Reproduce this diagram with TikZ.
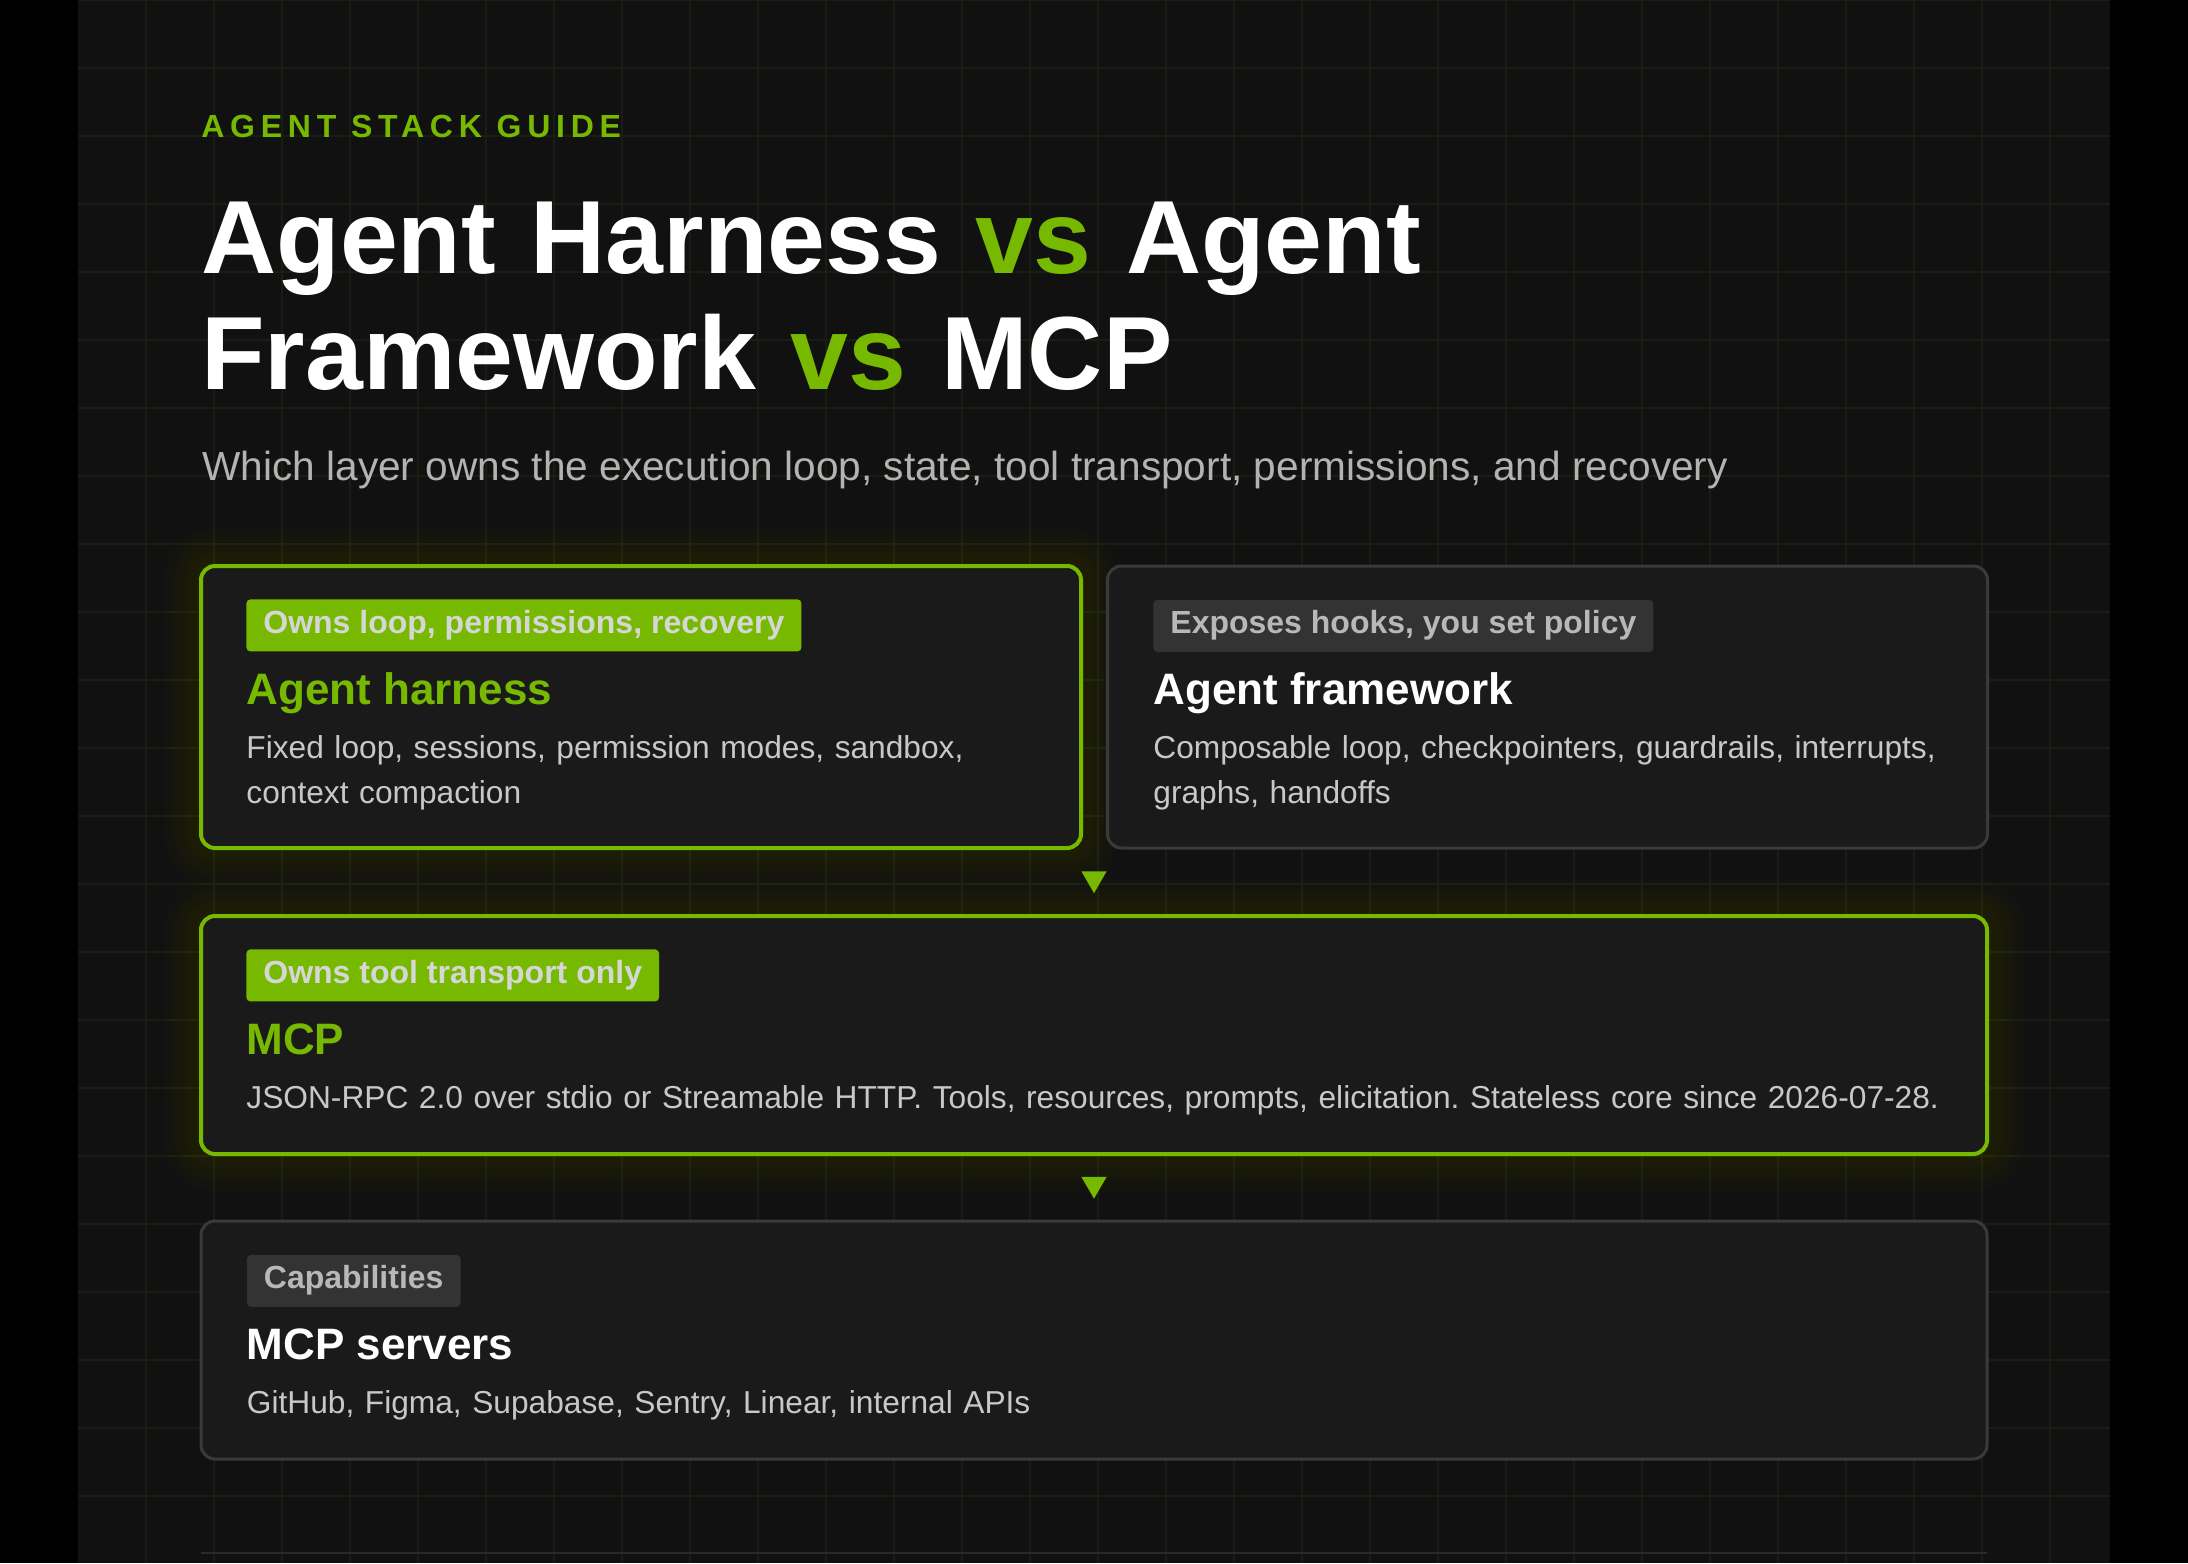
\documentclass[tikz,border=0pt]{standalone}
\usepackage{fontspec}
\setmainfont{Liberation Sans}
\newfontfamily\kickerfont[LetterSpace=18]{Liberation Sans}
\usetikzlibrary{positioning,shapes.geometric}
\frenchspacing

\definecolor{accent}{HTML}{76B900}
\definecolor{pagebg}{HTML}{111111}
\definecolor{gridline}{HTML}{181F12}
\definecolor{cardbg}{HTML}{1A1A1A}
\definecolor{cardline}{HTML}{3A3A3A}
\definecolor{tagbg}{HTML}{333333}
\definecolor{tagtext}{HTML}{B8B8B8}
\definecolor{ontag}{HTML}{D6D6D6}
\definecolor{bodytext}{HTML}{C8C8C8}
\definecolor{subtext}{HTML}{B3B3B3}
\definecolor{footline}{HTML}{2A2A2A}

\pgfdeclarelayer{back}
\pgfdeclarelayer{glow}
\pgfsetlayers{back,glow,main}

\tikzset{
  card/.style={draw=cardline, line width=1.5pt, fill=cardbg, rounded corners=7pt, inner sep=0pt},
  hotcard/.style={card, draw=accent, line width=2pt},
  tagbox/.style={fill=tagbg, text=tagtext, rounded corners=2pt, anchor=north west,
    inner xsep=8.5pt, inner ysep=5.5pt, text height=11.5pt, text depth=3.5pt,
    font=\fontsize{16}{19}\selectfont\bfseries},
  hottag/.style={tagbox, fill=accent, text=ontag},
  cardtitle/.style={anchor=base west, inner sep=0pt, text=white,
    font=\fontsize{22}{26}\selectfont\bfseries},
  hottitle/.style={cardtitle, text=accent},
  cardtext/.style={anchor=base west, inner sep=0pt, text=bodytext, text width=900pt,
    align=left, font=\fontsize{15.85}{22.5}\selectfont},
  downtri/.style={regular polygon, regular polygon sides=3, shape border rotate=180,
    fill=accent, inner sep=0pt, minimum size=14.5pt},
  glowring/.style={fill=accent, fill opacity=0.013}
}

\begin{document}
\begin{tikzpicture}[x=0.5pt, y=-0.5pt]

  \useasboundingbox (0,0) rectangle (2188,1563);

  \def\padx{47}
  \def\tagy{35}
  \def\titley{140}
  \def\texty{194}

  %backdrop
  \begin{pgfonlayer}{back}
    \fill[black] (0,0) rectangle (2188,1563);
    \fill[pagebg] (78,0) rectangle (2110,1563);
    \foreach \gx in {1,...,29}{
      \draw[gridline, line width=0.6pt] (78+\gx*68,0) -- (78+\gx*68,1563);
    }
    \foreach \gy in {0,...,22}{
      \draw[gridline, line width=0.6pt] (78,\gy*68) -- (2110,\gy*68);
    }
    \draw[footline, line width=1pt] (201,1553) -- (1987,1553);
  \end{pgfonlayer}

  %header
  \node[anchor=base west, inner sep=0pt, text=accent, font=\fontsize{16}{19}\kickerfont\bfseries]
    (kicker) at (201,137) {AGENT STACK GUIDE};
  \node[anchor=base west, inner sep=0pt, text=white, text width=1000pt, align=left,
    font=\fontsize{52}{58}\selectfont\bfseries]
    (headline) at (201,273) {Agent Harness \textcolor{accent}{vs} Agent\\Framework \textcolor{accent}{vs} MCP};
  \node[anchor=base west, inner sep=0pt, text=subtext, font=\fontsize{20.3}{24}\selectfont]
    (subline) at (202,480) {Which layer owns the execution loop, state, tool transport, permissions, and recovery};

  %cards
  \node[hotcard, minimum width=440pt, minimum height=141pt] (harness) at (641,707) {};
  \node[card, minimum width=440pt, minimum height=141pt] (framework) at (1547.5,707) {};
  \node[hotcard, minimum width=893pt, minimum height=119pt] (mcp) at (1094,1035) {};
  \node[card, minimum width=893pt, minimum height=119pt] (servers) at (1094,1340) {};

  %harness
  \node[hottag] (harnesstag) at ([shift={(\padx,\tagy)}]harness.north west) {Owns loop, permissions, recovery};
  \node[hottitle] (harnesstitle) at ([shift={(\padx,\titley)}]harness.north west) {Agent harness};
  \node[cardtext] (harnesstext) at ([shift={(\padx,\texty)}]harness.north west)
    {Fixed loop, sessions, permission modes, sandbox,\\context compaction};

  %framework
  \node[tagbox] (frameworktag) at ([shift={(\padx,\tagy)}]framework.north west) {Exposes hooks, you set policy};
  \node[cardtitle] (frameworktitle) at ([shift={(\padx,\titley)}]framework.north west) {Agent framework};
  \node[cardtext] (frameworktext) at ([shift={(\padx,\texty)}]framework.north west)
    {Composable loop, checkpointers, guardrails, interrupts,\\graphs, handoffs};

  %mcp
  \node[hottag] (mcptag) at ([shift={(\padx,\tagy)}]mcp.north west) {Owns tool transport only};
  \node[hottitle] (mcptitle) at ([shift={(\padx,\titley)}]mcp.north west) {MCP};
  \node[cardtext] (mcptext) at ([shift={(\padx,\texty)}]mcp.north west)
    {JSON-RPC 2.0 over stdio or Streamable HTTP. Tools, resources, prompts, elicitation. Stateless core since 2026-07-28.};

  %servers
  \node[tagbox] (serverstag) at ([shift={(\padx,\tagy)}]servers.north west) {Capabilities};
  \node[cardtitle] (serverstitle) at ([shift={(\padx,\titley)}]servers.north west) {MCP servers};
  \node[cardtext] (serverstext) at ([shift={(\padx,\texty)}]servers.north west)
    {GitHub, Figma, Supabase, Sentry, Linear, internal APIs};

  %flow marks
  \node[downtri, above=10pt of mcp] (flowa) {};
  \node[downtri, above=10pt of servers] (flowb) {};

  %glow
  \begin{pgfonlayer}{glow}
    \foreach \card in {harness,mcp}{
      \foreach \g in {3,6,...,36}{
        \fill[glowring, rounded corners=7pt+\g*0.5pt]
          ([shift={(-\g,-\g)}]\card.north west) rectangle ([shift={(\g,\g)}]\card.south east);
      }
    }
  \end{pgfonlayer}

\end{tikzpicture}
\end{document}
